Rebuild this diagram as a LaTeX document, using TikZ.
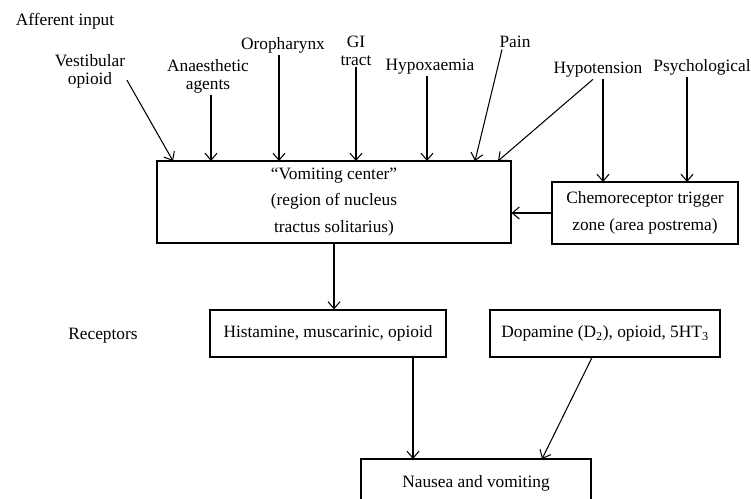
\documentclass[tikz,border=0pt]{standalone}
\usepackage{fontspec}
\setmainfont{Liberation Serif}
\usepackage{tikz}
\usetikzlibrary{arrows.meta}

\begin{document}
\begin{tikzpicture}[x = 0.03cm, y = -0.03cm, line width = 0.9pt,
                        every node/.style = {font = \fontsize{14.8}{15.3}\selectfont},
                        src/.style = {align = center, inner sep = 1pt},
                        box/.style = {draw, align = center, font = \fontsize{14.8}{22.5}\selectfont},
                        arr/.style = {-{Straight Barb[length = 2.1mm, width = 3.6mm]}}]
      \useasboundingbox (0, 0) rectangle (751, 498);

      \node (aff) at (65, 21){Afferent input};
      \node [src] (vest) at (90, 71){Vestibular\\opioid};
      \node [src] (anae) at (208, 76){Anaesthetic\\agents};
      \node [src] (oro) at (283, 45){Oropharynx};
      \node [src] (gi) at (356, 51){GI\\tract};
      \node [src] (hypox) at (430, 67){Hypoxaemia};
      \node [src] (pain) at (515, 42){Pain};
      \node [src] (hypot) at (598, 70){Hypotension};
      \node [src] (psych) at (702, 67){Psychological};

      \node [box, minimum width = 10.62cm, minimum height = 2.46cm] (vc) at (334, 202){“Vomiting center”\\(region of nucleus\\tractus solitarius)};
      \node [box, minimum width = 5.58cm, minimum height = 1.86cm] (ctz) at (645, 213){Chemoreceptor trigger\\zone (area postrema)};
      \node (rec) at (103, 336){Receptors};
      \node [box, minimum width = 7.08cm, minimum height = 1.41cm] (hist) at (328, 333.5){Histamine, muscarinic, opioid};
      \node [box, minimum width = 6.9cm, minimum height = 1.41cm] (dopa) at (605, 333.5){Dopamine (D\textsubscript{2}), opioid, 5HT\textsubscript{3}};
      \node [box, minimum width = 6.9cm, minimum height = 1.44cm] (naus) at (476, 483){Nausea and vomiting};

      \coordinate (v1) at (173, 161);
      \coordinate (v2) at (211, 161);
      \coordinate (v3) at (279, 161);
      \coordinate (v4) at (356, 161);
      \coordinate (v5) at (427, 161);
      \coordinate (v6) at (475, 161);
      \coordinate (v7) at (498, 161);
      \coordinate (c1) at (603, 182);
      \coordinate (c2) at (687, 182);
      \coordinate (n1) at (413, 459);
      \coordinate (n2) at (542, 459);

      \draw [arr] ([yshift = -0.27cm]vest.east) -- (v1);
      \draw [arr] (anae.south -| v2) -- (v2);
      \draw [arr] (oro.south -| v3) -- (v3);
      \draw [arr] (gi.south -| v4) -- (v4);
      \draw [arr] (hypox.south -| v5) -- (v5);
      \draw [arr] ([xshift = -0.39cm]pain.south) -- (v6);
      \draw [arr] ([xshift = -0.15cm]hypot.south) -- (v7);
      \draw [arr] (hypot.south -| c1) -- (c1);
      \draw [arr] (psych.south -| c2) -- (c2);
      \draw [arr] (ctz.west) -- (ctz.west -| vc.east);
      \draw [arr] (vc.south) -- (vc.south |- hist.north);
      \draw [arr] (hist.south -| n1) -- (n1);
      \draw [arr] ([xshift = -0.39cm]dopa.south) -- (n2);
      \end{tikzpicture}
\end{document}
